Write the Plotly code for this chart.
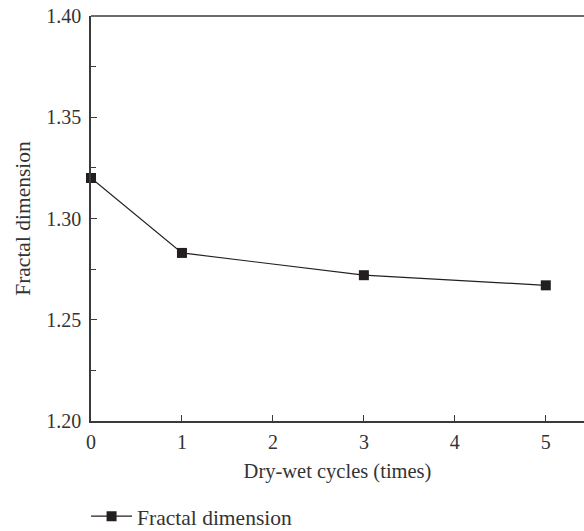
import plotly.graph_objects as go

cycles = [0, 1, 3, 5]
fractal_dim = [1.320, 1.283, 1.272, 1.267]
y_ticks = [1.20, 1.25, 1.30, 1.35, 1.40]
x_ticks = [0, 1, 2, 3, 4, 5]

ink = "#231f20"
axis_col = "#3a3a3a"
font_family = "Liberation Serif, DejaVu Serif, serif"

fig = go.Figure()
fig.add_trace(go.Scatter(
    x=cycles, y=fractal_dim, mode="lines+markers", name="Fractal dimension",
    line=dict(color=ink, width=1.2),
    marker=dict(symbol="square", size=10, color=ink),
    cliponaxis=False,
))

fig.update_layout(
    width=584, height=531,
    margin=dict(l=91, r=0, t=16, b=110, autoexpand=False),
    paper_bgcolor="white", plot_bgcolor="white",
    font=dict(family=font_family, size=20, color="#333333"),
    showlegend=True,
    legend=dict(orientation="h", x=-0.01, xanchor="left", y=-0.235, yanchor="middle",
                itemwidth=41, font=dict(size=21.5, color="#333333")),
    xaxis=dict(
        range=[0, 5.42], tickvals=x_ticks, ticks="inside", ticklen=6, tickwidth=1.2,
        tickcolor=axis_col, showline=True, linecolor=axis_col, linewidth=1.5,
        showgrid=False, zeroline=False, automargin=False, ticklabelstandoff=2,
        title=dict(text="Dry-wet cycles (times)", standoff=12, font=dict(size=20.5)),
    ),
    yaxis=dict(
        range=[1.20, 1.40], tickvals=y_ticks, tickformat=".2f",
        ticks="inside", ticklen=6, tickwidth=1.2, tickcolor=axis_col,
        minor=dict(tickvals=[1.225, 1.275, 1.325, 1.375], ticks="inside", ticklen=5,
                   tickwidth=1.2, tickcolor=axis_col),
        showline=True, linecolor=axis_col, linewidth=1.5,
        showgrid=False, zeroline=False, automargin=False, ticklabelstandoff=4,
        title=dict(text="Fractal dimension", standoff=10, font=dict(size=21.5)),
    ),
)

# frame line along the top of the plotting area
fig.add_shape(type="line", xref="paper", yref="paper", x0=0, x1=1, y0=1, y1=1,
              line=dict(color=axis_col, width=1.5))

fig.write_html("out.html")
